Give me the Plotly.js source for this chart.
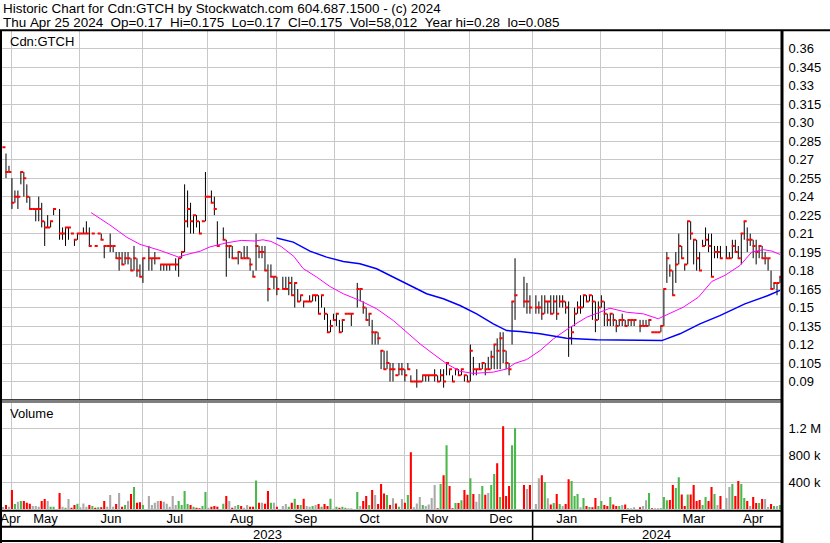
<!DOCTYPE html>
<html><head><meta charset="utf-8">
<script src="https://cdn.plot.ly/plotly-3.0.1.min.js"></script>
<style>html,body{margin:0;padding:0;background:#fff;}#chart{width:830px;height:543px;}</style>
</head><body><div id="chart"></div>
<script>
// One slot per weekday, 2023-04-26 .. 2024-04-25 (null = market holiday)
const high = [
.28,.275,.265,.255,.245,.245,.26,.26,.25,.24,
.23,.23,.24,.235,.22,.225,.22,.23,null,.23,
.215,.215,.215,.21,.205,.21,.21,.215,.22,.215,
.21,.20,.21,.21,.20,.20,.21,.20,.195,.195,
.195,.195,.195,.19,.20,.19,.185,.19,null,.20,
.19,.195,.19,.185,.185,.185,.185,.185,.19,.19,
.195,.25,.245,.235,.225,.225,.22,.22,.26,.24,
.245,.24,.22,null,.215,.205,.20,.20,.19,.195,
.195,.20,.20,.19,.18,.21,.20,.20,.20,.185,
.185,.175,.175,null,.175,.175,.175,.175,.17,.165,
.16,.155,.155,.16,.16,.16,.16,.16,.15,.145,
.14,.145,.145,.14,.14,.145,.145,.145,null,.17,
.165,.155,.15,.145,.14,.13,.13,.115,.115,.115,
.105,.105,.095,.105,.105,.10,.105,.095,.09,.10,
.09,.095,.095,.095,.095,.10,.095,.10,.10,.105,
.10,.095,.10,.10,.10,.095,.095,.12,.11,.10,
.105,.105,.105,.11,.115,.12,.125,.13,.13,.115,
.105,.155,.19,null,null,.175,.17,.16,null,.16,
.155,.16,.16,.155,.16,.16,.16,.16,.16,.155,
.155,.135,.15,.155,.16,.16,.16,.16,.16,.155,
.155,.16,.155,.145,.145,.145,.14,.14,.145,.14,
.14,.14,.14,null,.14,.14,.14,.14,.13,.13,
.13,.135,.165,.195,.185,.18,.195,.21,.20,.185,
.22,.22,.205,.205,.195,.205,.215,.21,.21,.20,
.20,.20,null,.20,.195,.205,.205,.20,.21,.22,
.215,.21,.205,.205,.20,.20,.195,.19,.18,.17,
.17,.175];
const low = [
.28,.255,.26,.23,.235,.23,.25,.24,.235,.23,
.23,.22,.22,.215,.20,.215,.215,.225,null,.205,
.205,.20,.205,.21,.20,.205,.21,.21,.21,.20,
.21,.20,.21,.205,.19,.20,.195,.195,.19,.18,
.185,.185,.185,.18,.18,.175,.175,.17,null,.18,
.18,.185,.19,.18,.18,.18,.18,.185,.18,.175,
.19,.195,.215,.21,.21,.215,.21,.22,.22,.24,
.235,.225,.20,null,.205,.175,.19,.19,.19,.185,
.19,.19,.19,.18,.175,.18,.19,.19,.18,.155,
.175,.165,.16,null,.165,.165,.16,.16,.15,.155,
.155,.15,.155,.155,.155,.155,.145,.15,.14,.13,
.13,.14,.135,.13,.13,.145,.145,.135,null,.15,
.155,.145,.14,.135,.12,.12,.12,.10,.10,.10,
.09,.09,.095,.095,.095,.09,.10,.09,.09,.085,
.09,.09,.09,.09,.095,.09,.09,.09,.085,.095,
.095,.09,.095,.095,.095,.09,.09,.09,.095,.095,
.10,.10,.095,.10,.10,.10,.10,.10,.105,.10,
.095,.12,.14,null,null,.15,.145,.145,null,.145,
.145,.14,.145,.145,.145,.145,.14,.15,.15,.145,
.11,.12,.135,.145,.145,.15,.155,.155,.14,.13,
.14,.15,.135,.135,.135,.135,.13,.135,.135,.135,
.135,.135,.135,null,.13,.135,.135,.135,.13,.13,
.13,.13,.135,.17,.175,.16,.17,.185,.19,.18,
.185,.205,.185,.18,.18,.20,.20,.195,.175,.19,
.19,.19,null,.19,.19,.19,.195,.19,.185,.205,
.195,.20,.19,.185,.19,.19,.185,.18,.165,.165,
.16,.17];
const close = [
.28,.26,.26,.235,.24,.24,.26,.255,.24,.23,
.23,.23,.23,.22,.215,.215,.22,.23,null,.21,
.21,.215,.215,.21,.205,.21,.21,.21,.21,.20,
.21,.20,.21,.205,.20,.20,.20,.20,.19,.19,
.185,.19,.19,.18,.19,.18,.175,.19,null,.19,
.19,.19,.19,.185,.185,.185,.185,.185,.185,.19,
.195,.22,.23,.22,.225,.22,.21,.22,.24,.24,
.235,.23,.20,null,.205,.20,.20,.19,.19,.195,
.19,.19,.19,.185,.175,.20,.195,.195,.18,.165,
.175,.175,.165,null,.165,.165,.17,.16,.17,.155,
.16,.155,.155,.155,.16,.16,.145,.16,.145,.13,
.135,.14,.145,.13,.14,.145,.145,.145,null,.165,
.165,.15,.14,.145,.13,.13,.125,.115,.10,.105,
.10,.10,.095,.10,.10,.095,.10,.09,.09,.09,
.09,.095,.095,.095,.095,.095,.09,.095,.09,.105,
.10,.09,.10,.095,.10,.095,.09,.115,.10,.10,
.10,.105,.10,.10,.11,.12,.115,.125,.115,.105,
.10,.155,.16,null,null,.155,.155,.15,null,.15,
.15,.145,.155,.155,.145,.155,.145,.155,.155,.15,
.125,.13,.145,.15,.15,.16,.155,.16,.155,.14,
.15,.155,.145,.14,.145,.14,.135,.14,.14,.135,
.14,.14,.14,null,.135,.135,.135,.14,.13,.13,
.13,.135,.165,.19,.18,.16,.185,.20,.19,.185,
.22,.21,.205,.19,.18,.20,.205,.20,.175,.195,
.195,.19,null,.19,.19,.20,.195,.19,.21,.22,
.205,.205,.20,.195,.20,.19,.19,.19,.165,.17,
.17,.175];
// volume in thousands of shares
const volume = [
30,60,35,283,74,109,119,119,94,79,
45,45,35,119,149,119,35,35,null,238,
35,20,149,20,60,79,25,84,35,60,
45,20,25,25,119,35,208,35,74,238,
35,60,119,223,327,94,99,60,null,193,
60,94,119,119,109,79,35,193,60,119,
60,268,74,60,35,20,10,45,253,20,
35,45,35,null,79,193,119,20,45,60,
45,20,60,35,35,426,94,94,79,268,
94,94,35,null,45,74,35,94,154,60,
60,154,45,35,45,60,74,35,74,45,
154,5,35,20,35,20,10,10,null,253,
45,119,193,60,283,208,74,372,233,208,
60,159,84,35,149,94,208,848,25,84,
179,60,45,69,164,357,10,372,506,952,
342,10,89,89,129,283,213,461,223,109,
223,342,213,238,357,521,684,179,1235,193,
342,952,1205,null,null,357,298,357,null,74,
461,506,402,159,69,89,223,74,45,74,
446,417,193,223,25,164,45,30,25,164,
45,119,60,45,179,69,45,45,60,69,
10,10,25,null,25,45,129,238,10,10,
10,10,179,129,134,357,312,476,218,45,
218,218,357,119,134,60,179,119,327,223,
60,193,null,164,327,372,193,417,372,164,
119,45,179,89,89,149,149,30,74,45,
45,58];
// moving averages: [slot, value]
const maShortSlot = [29.6,35.9,41.6,46,52.7,58.9,61.7,66.2,69.5,75.1,80,84.6,87.3,90,93.4,97.7,100.8,105.4,109.8,114.3,119.9,125.5,131.1,135.6,140.1,144.5,149.1,153.5,158,164.7,169.2,172,175.9,180.4,184.9,190.5,196.1,200.5,203.9,209.5,215.1,220.1,223.5,228.5,233.6,238.1,242.5,247.6,251.5,255.4,258.3,261];
const maShortVal = [.227,.217,.207,.2013,.1964,.191,.193,.1957,.1992,.2025,.2045,.204,.205,.2037,.1996,.1915,.1817,.1747,.1671,.1612,.1557,.149,.1395,.13,.1205,.1124,.1043,.0983,.0966,.0976,.1002,.1048,.1078,.1151,.1246,.134,.1422,.1462,.1495,.1462,.1449,.1409,.1449,.1503,.1584,.1712,.1761,.1842,.195,.197,.1958,.1931];
const maLongSlot = [91.9,97.5,103.1,108.7,114.3,119.9,125.5,131.1,136.7,142.3,147.9,153.5,159.1,164.7,169.2,173.7,180.4,189.3,199.4,212.9,221.3,227.4,234.1,240.8,249.2,257,261];
const maLongVal = [.2064,.2031,.1958,.1909,.1874,.1856,.1815,.1747,.1679,.1612,.1571,.1517,.1449,.1368,.1313,.1305,.1287,.1251,.1238,.1232,.1232,.1287,.1368,.1435,.153,.1598,.1639];

const monthGrid = [2.9,25.6,46.9,68.6,91.9,111.5,134.8,156.6,177.9,200.8,221.5,242.6];
const monthNames = ['Apr','May','Jun','Jul','Aug','Sep','Oct','Nov','Dec','Jan','Feb','Mar','Apr'];
const yearNames = ['2023','2024'];
const priceTicks = [0.09,0.105,0.12,0.135,0.15,0.165,0.18,0.195,0.21,0.225,0.24,0.255,0.27,0.285,0.30,0.315,0.33,0.345,0.36];
const priceTickText = ['0.09','0.105','0.12','0.135','0.15','0.165','0.18','0.195','0.21','0.225','0.24','0.255','0.27','0.285','0.30','0.315','0.33','0.345','0.36'];
const volTicks = [400,800,1200];
const volTickText = ['400 k','800 k','1.2 M'];
const header1 = 'Historic Chart for Cdn:GTCH by Stockwatch.com 604.687.1500 - (c) 2024';
const header2 = 'Thu Apr 25 2024  Op=0.17  Hi=0.175  Lo=0.17  Cl=0.175  Vol=58,012  Year hi=0.28  lo=0.085';

// ---------- drawing ----------
const W = 830, H = 543, ML = 2, MR = 49, MT = 31, MB = 34;
const PW = W - ML - MR, PH = H - MT - MB;
const px = x => (x - ML) / PW;
const py = y => (H - MB - y) / PH;
const XR = [-0.34, 261.34];
const FONT = 'Liberation Sans, Arial, sans-serif';
const RED = '#ff0000', GREEN = '#4cb84c', GRAY = '#a9a9a9', GRID = '#c8c8c8';

const slots = close.map((_, i) => i);
const up = close.map((c, i) => c == null ? null : +(high[i] - c).toFixed(4));
const dn = close.map((c, i) => c == null ? null : +(c - low[i]).toFixed(4));
let prev = null;
const volColors = close.map(c => {
  let col = GRAY;
  if (c != null && prev != null) { if (c > prev + 1e-9) col = GREEN; else if (c < prev - 1e-9) col = RED; }
  if (c != null) prev = c;
  return col;
});
// month labels centred in their month span; the first (partial) month label is
// nudged right just enough to stay fully inside the picture
const labelPos = [Math.max((XR[0] + monthGrid[0]) / 2, 2.5)];
for (let i = 0; i < monthGrid.length; i++) {
  const nxt = i + 1 < monthGrid.length ? monthGrid[i + 1] : XR[1];
  labelPos.push((monthGrid[i] + nxt) / 2);
}
const yearSplit = monthGrid[8];

const traces = [
  {x: slots, y: close, xaxis: 'x2', yaxis: 'y', type: 'scatter', mode: 'markers',
   marker: {size: 1, color: 'rgba(0,0,0,0)'},
   error_y: {type: 'data', symmetric: false, array: up, arrayminus: dn, color: '#000', thickness: 1, width: 0},
   hoverinfo: 'skip', showlegend: false},
  {x: slots.map(s => s + 0.3), y: close, xaxis: 'x2', yaxis: 'y', type: 'scatter', mode: 'markers',
   marker: {symbol: 'line-ew', size: 2.2, line: {color: RED, width: 2}},
   hoverinfo: 'skip', showlegend: false},
  {x: maShortSlot, y: maShortVal, xaxis: 'x2', yaxis: 'y', type: 'scatter', mode: 'lines',
   line: {color: '#ff00ff', width: 1}, hoverinfo: 'skip', showlegend: false},
  {x: maLongSlot, y: maLongVal, xaxis: 'x2', yaxis: 'y', type: 'scatter', mode: 'lines',
   line: {color: '#0000ff', width: 1.5}, hoverinfo: 'skip', showlegend: false},
  {x: slots, y: volume, xaxis: 'x', yaxis: 'y2', type: 'bar', width: 0.7,
   marker: {color: volColors, line: {width: 0}}, hoverinfo: 'skip', showlegend: false}
];

const minorGrid = {tickmode: 'array', tickvals: monthGrid, showgrid: true, gridcolor: GRID, gridwidth: 1, ticks: ''};
const hline = (y, x0, x1, w) => ({type: 'line', xref: 'paper', yref: 'paper', x0: px(x0), x1: px(x1), y0: py(y), y1: py(y), line: {color: '#000', width: w}});
const vline = (x, y0, y1, w) => ({type: 'line', xref: 'paper', yref: 'paper', x0: px(x), x1: px(x), y0: py(y0), y1: py(y1), line: {color: '#000', width: w}});
const shapes = [
  hline(30.3, 0, 830, 2),
  hline(399.8, 0, 782, 1.2),
  hline(402, 0, 782, 1.2),
  hline(510.8, 0, 782, 2),
  hline(526.8, 0, 782, 2),
  hline(541, 0, 782, 2),
  vline(1, 30, 543, 2),
  vline(782, 30, 543, 3),
  {type: 'line', xref: 'x', yref: 'paper', x0: yearSplit, x1: yearSplit, y0: py(510), y1: py(541), line: {color: '#000', width: 1.5}}
];
const ann = (text, x, y, xanchor, size) => ({text, x: px(x), y: py(y), xref: 'paper', yref: 'paper', xanchor, yanchor: 'middle', showarrow: false, font: {family: FONT, size: size || 13, color: '#000'}});
const annotations = [
  ann(header1.replace(/ /g, '\u00a0'), 1, 8.5, 'left', 13.45),
  ann(header2.replace(/ /g, '\u00a0'), 1, 22.5, 'left', 13.45),
  ann('Cdn:GTCH', 8, 42, 'left'),
  ann('Volume', 8, 413, 'left'),
  {text: yearNames[0], x: (XR[0] + yearSplit) / 2, y: py(534), xref: 'x', yref: 'paper', xanchor: 'center', yanchor: 'middle', showarrow: false, font: {family: FONT, size: 13, color: '#000'}},
  {text: yearNames[1], x: (yearSplit + XR[1]) / 2, y: py(534), xref: 'x', yref: 'paper', xanchor: 'center', yanchor: 'middle', showarrow: false, font: {family: FONT, size: 13, color: '#000'}}
];

const layout = {
  width: W, height: H, margin: {l: ML, r: MR, t: MT, b: MB, pad: 0},
  paper_bgcolor: '#fff', plot_bgcolor: '#fff', showlegend: false,
  font: {family: FONT, size: 13, color: '#000'},
  xaxis: {domain: [0, 1], anchor: 'y2', range: XR, tickmode: 'array', tickvals: labelPos, ticktext: monthNames,
          showgrid: false, zeroline: false, showline: false, ticks: '', ticklabeloverflow: 'allow',
          tickfont: {family: FONT, size: 13, color: '#000'}, minor: minorGrid, fixedrange: true},
  xaxis2: {domain: [0, 1], anchor: 'y', range: XR, matches: 'x', showticklabels: false, showgrid: false, zeroline: false,
           showline: false, ticks: '', minor: minorGrid, fixedrange: true},
  yaxis: {domain: [py(399.5), 1], anchor: 'x2', side: 'right', range: [0.0754, 0.3744], tickmode: 'array',
          tickvals: priceTicks, ticktext: priceTickText, showgrid: true, gridcolor: GRID, gridwidth: 1, zeroline: false,
          showline: false, ticks: 'outside', ticklen: 4, tickcolor: 'rgba(0,0,0,0)', tickfont: {family: FONT, size: 13, color: '#000'}},
  yaxis2: {domain: [0, py(402.5)], anchor: 'x', side: 'right', range: [0, 1591], tickmode: 'array',
           tickvals: volTicks, ticktext: volTickText, showgrid: true, gridcolor: GRID, gridwidth: 1, zeroline: false,
           showline: false, ticks: 'outside', ticklen: 4, tickcolor: 'rgba(0,0,0,0)', tickfont: {family: FONT, size: 13, color: '#000'}},
  shapes, annotations
};
Plotly.newPlot('chart', traces, layout, {staticPlot: true, displayModeBar: false});
</script></body></html>
